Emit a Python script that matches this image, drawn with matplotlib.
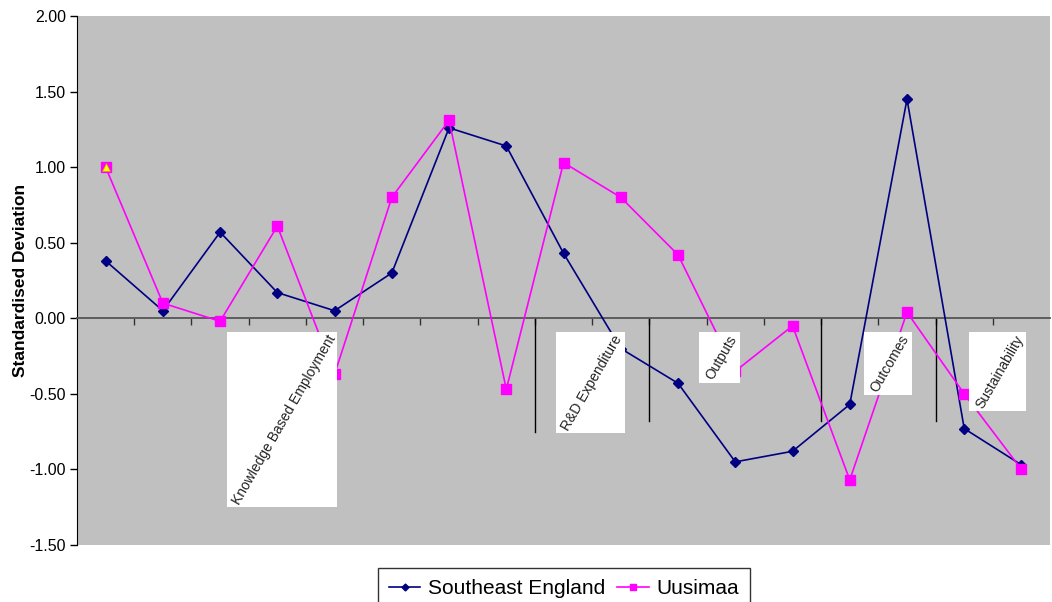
import numpy as np
import matplotlib
matplotlib.use("Agg")
import matplotlib.pyplot as plt
from matplotlib.patches import Rectangle
from matplotlib.ticker import FormatStrFormatter, FixedLocator

plt.rcParams['font.family'] = ['Liberation Sans', 'DejaVu Sans']

# standardised deviation per indicator (17 indicators, grouped into 6 themes)
southeast_england = [0.38, 0.05, 0.57, 0.17, 0.05, 0.30, 1.26, 1.14, 0.43, -0.20,
                     -0.43, -0.95, -0.88, -0.57, 1.45, -0.73, -0.97]
uusimaa = [1.00, 0.10, -0.02, 0.61, -0.37, 0.80, 1.31, -0.47, 1.03, 0.80,
           0.42, -0.35, -0.05, -1.07, 0.04, -0.50, -1.00]
highlight_idx = [0]

series_names = ["Southeast England", "Uusimaa"]

# theme labels and the white boxes they sit in (x0, x1, y0, y1 in data units)
theme_labels = ["Knowledge Based Employment", "R&D Expenditure", "Outputs",
                "Outcomes", "Sustainability"]
theme_boxes = [(2.12, 4.05, -1.25, -0.09),
               (7.87, 9.07, -0.76, -0.09),
               (10.36, 11.08, -0.43, -0.09),
               (13.24, 14.08, -0.51, -0.09),
               (15.09, 16.08, -0.615, -0.09)]
# theme dividers at category boundaries
dividers = [7.5, 9.5, 12.5, 14.5]
divider_depth = [-0.75, -0.68, -0.68, -0.68]

x = np.arange(len(southeast_england))

fig = plt.figure(figsize=(10.52, 6.02), dpi=100)
ax = fig.add_axes([0.0732, 0.0947, 0.925, 0.8787])
ax.set_facecolor('#C0C0C0')

ax.plot(x, southeast_england, color='#000080', lw=1.2, marker='D', ms=5,
        label=series_names[0], zorder=3)
ax.plot(x, uusimaa, color='#FF00FF', lw=1.2, marker='s', ms=6.5,
        label=series_names[1], zorder=3)
ax.plot(x[highlight_idx], [uusimaa[i] for i in highlight_idx], ls='none',
        marker='^', ms=6, color='#FFFF00', markeredgecolor='#C8A000',
        markeredgewidth=0.5, zorder=4)

for xd, yd in zip(dividers, divider_depth):
    ax.plot([xd, xd], [0, yd], color='black', lw=1.0, zorder=2)

for lab, (x0, x1, y0, y1) in zip(theme_labels, theme_boxes):
    ax.add_patch(Rectangle((x0, y0), x1 - x0, y1 - y0, facecolor='white',
                           edgecolor='none', zorder=5))
    ax.text((x0 + x1) / 2 + 0.03, (y0 + y1) / 2, lab, rotation=60,
            ha='center', va='center', fontsize=10, color='#222222', zorder=6)

ax.set_xlim(-0.5, len(x) - 0.5)
ax.set_ylim(-1.5, 2.0)
ax.set_yticks(np.arange(-1.5, 2.01, 0.5))
ax.yaxis.set_major_formatter(FormatStrFormatter('%.2f'))
ax.tick_params(axis='y', labelsize=11.5, length=5, width=1, direction='out',
               pad=3)
ax.set_ylabel("Standardised Deviation", fontsize=12.5, fontweight='bold',
              labelpad=1)

ax.spines['bottom'].set_position(('data', 0))
ax.spines['bottom'].set_color('#555555')
ax.spines['bottom'].set_linewidth(1.3)
ax.xaxis.set_major_locator(FixedLocator(np.arange(0.5, len(x) - 0.5, 1)))
ax.tick_params(axis='x', length=5, width=1, color='#333333', direction='out',
               labelbottom=False)
for s in ['top', 'right']:
    ax.spines[s].set_visible(False)
ax.spines['left'].set_color('black')

# legend hangs off the bottom edge of the figure
leg = fig.legend(loc='upper center', bbox_to_anchor=(0.536, 0.0565),
                 borderaxespad=0, ncol=2, fontsize=15, frameon=True,
                 fancybox=False, edgecolor='black', handlelength=1.5,
                 handletextpad=0.35, columnspacing=0.6, borderpad=0.55,
                 markerscale=0.7)
leg.get_frame().set_linewidth(1.0)

fig.savefig('out.png', dpi=100)
